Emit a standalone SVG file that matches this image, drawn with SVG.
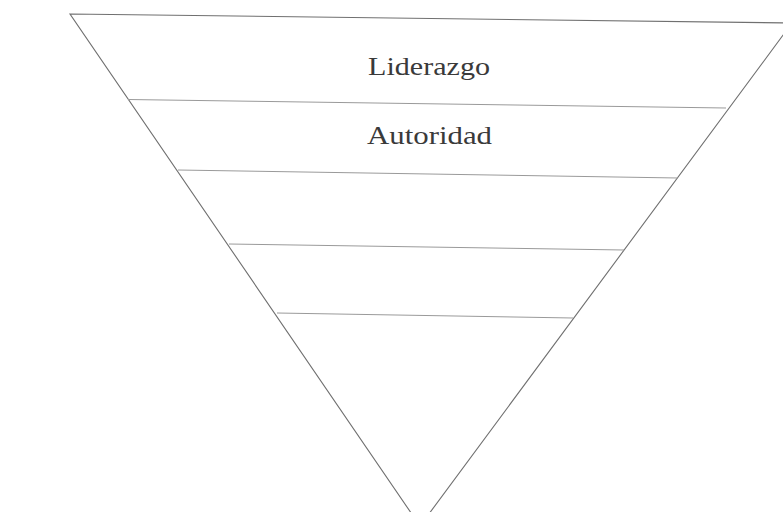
<svg xmlns="http://www.w3.org/2000/svg" width="783" height="512" viewBox="0 0 783 512">
<style>
.edge{fill:none;stroke:#707070;stroke-width:1.1}
.div{fill:none;stroke:#9a9a9a;stroke-width:1}
.lbl{font-family:"Liberation Serif","DejaVu Serif",serif;font-size:26px;fill:#3a3a3a;text-anchor:middle}
</style>
<rect width="783" height="512" fill="#ffffff"/>
<g id="pyramid">
<polygon class="edge" points="70,14 792,23 420,526"/>
</g>
<g id="dividers">
<line class="div" x1="128" y1="99.5" x2="726" y2="108"/>
<line class="div" x1="178" y1="170" x2="678" y2="178"/>
<line class="div" x1="229" y1="244" x2="624" y2="250"/>
<line class="div" x1="277" y1="313" x2="573" y2="318"/>
</g>
<g id="level-liderazgo">
<text class="lbl" x="429" y="74.5" textLength="122" lengthAdjust="spacingAndGlyphs">Liderazgo</text>
</g>
<g id="level-autoridad">
<text class="lbl" x="429.5" y="143.5" textLength="125" lengthAdjust="spacingAndGlyphs">Autoridad</text>
</g>
</svg>
